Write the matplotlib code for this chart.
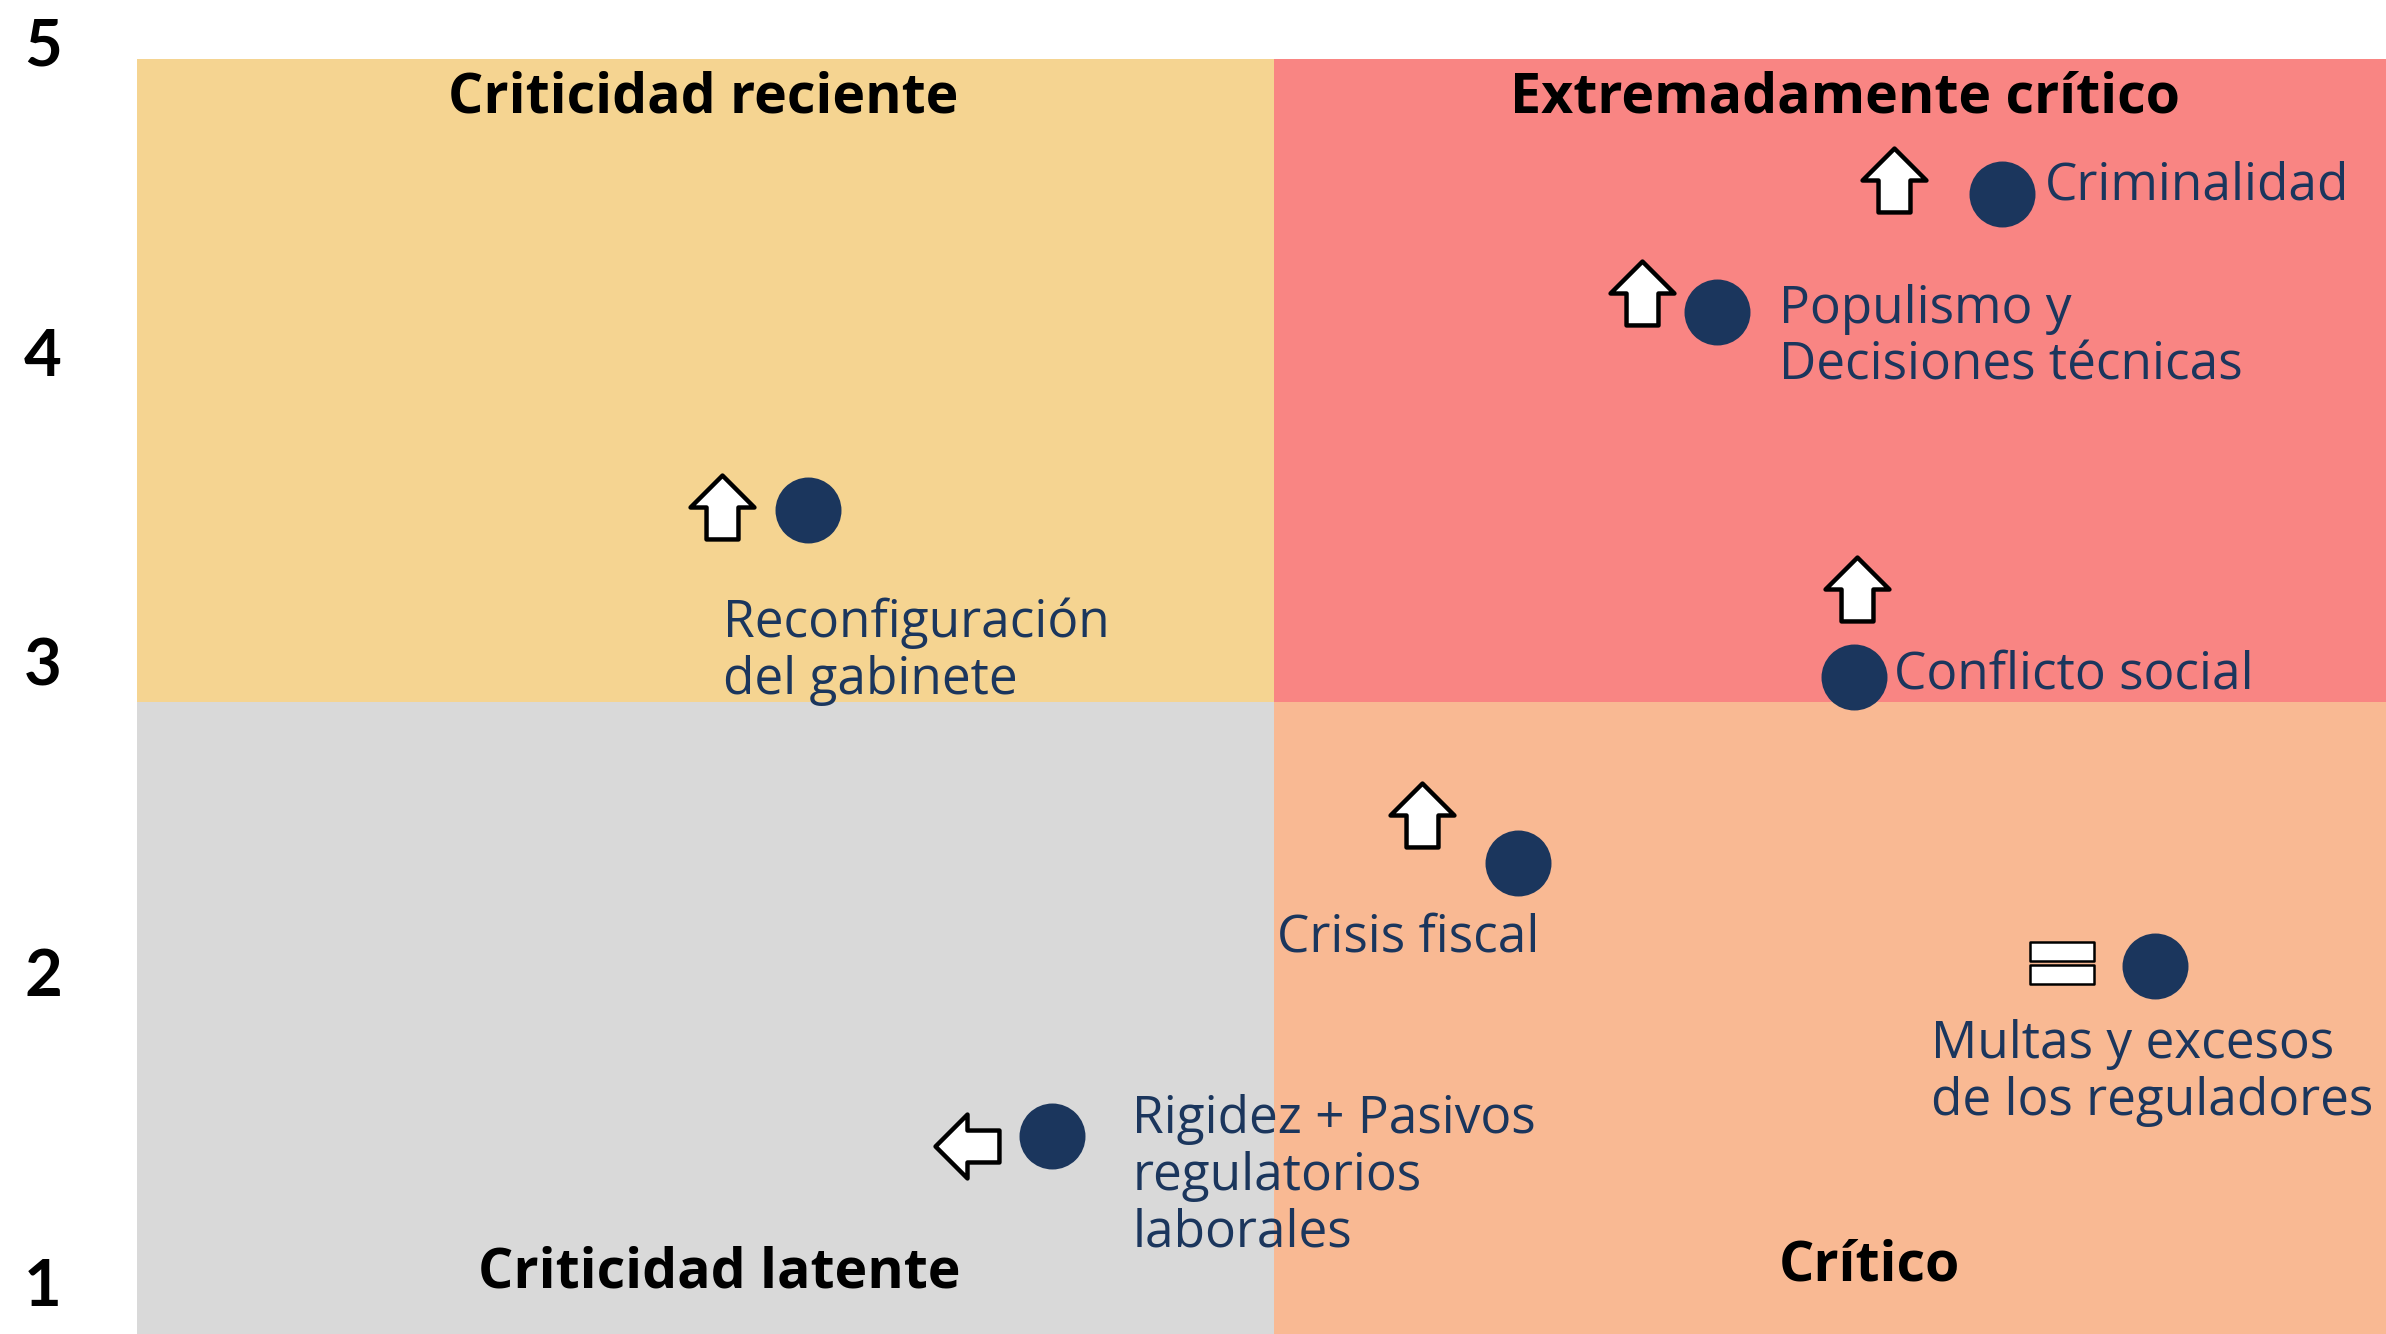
"""
Mapa de riesgos: cuadrantes de criticidad con tendencia
"""
import numpy as np
import matplotlib
matplotlib.use("Agg")
import matplotlib.pyplot as plt
from matplotlib.patches import Rectangle
from matplotlib.path import Path
from matplotlib.transforms import offset_copy

# datos
riesgos = ["Criminalidad", "Populismo y\nDecisiones técnicas", "Reconfiguración\ndel gabinete",
           "Conflicto social", "Crisis fiscal", "Multas y excesos\nde los reguladores",
           "Rigidez + Pasivos\nregulatorios\nlaborales"]
impacto = [4.28, 3.78, 2.18, 4.02, 3.43, 4.55, 2.61]
probabilidad = [4.51, 4.13, 3.49, 2.95, 2.35, 2.02, 1.47]
tendencia = ["up", "up", "up", "up", "up", "equal", "left"]
y_ticks = [1, 2, 3, 4, 5]

cuadrantes = ["Criticidad reciente", "Extremadamente crítico", "Criticidad latente", "Crítico"]

# limites de los cuadrantes
x_min, x_mid, x_max = 1.0, 3.0, 4.956
y_min, y_mid, y_top = 0.832, 2.871, 4.945

# posicion de etiquetas (baseline de la primera linea) y flechas, offset en puntos
label_off = [(31, -4.3), (44.6, -7.2), (-61.2, -90.7), (28.8, -7.9),
             (-174.2, -63.4), (-161.3, -65.5), (57.6, 4.3)]
arrow_off = [(-77.8, 10.1), (-54, 13.7), (-62, 2.2), (2.2, 63.4),
             (-69.8, 34.6), (-67, 2.2), (-61.2, -7.2)]
line_pitch = 41.8  # puntos entre lineas

navy = "#1B365D"
colores = ["#F5D491", "#F98583", "#D9D9D9", "#F9B993"]

# marcadores de tendencia
up_verts = [(0, 0.5), (0.5, 0), (0.25, 0), (0.25, -0.5), (-0.25, -0.5), (-0.25, 0), (-0.5, 0), (0, 0.5)]
up_codes = [Path.MOVETO] + [Path.LINETO] * 6 + [Path.CLOSEPOLY]
up_path = Path(up_verts, up_codes)
left_path = Path([(-y, x) for x, y in up_verts], up_codes)
eq_verts = [(-0.5, 0.333), (0.5, 0.333), (0.5, 0.03), (-0.5, 0.03), (-0.5, 0.333),
            (-0.5, -0.03), (0.5, -0.03), (0.5, -0.333), (-0.5, -0.333), (-0.5, -0.03)]
eq_codes = ([Path.MOVETO] + [Path.LINETO] * 3 + [Path.CLOSEPOLY]) * 2
eq_path = Path(eq_verts, eq_codes)
markers = {"up": up_path, "left": left_path, "equal": eq_path}

W, H = 2386, 1334
fig = plt.figure(figsize=(W / 100, H / 100), dpi=100)
ax = fig.add_axes([137 / W, 0, (W - 137) / W, 1])
ax.set_xlim(x_min, x_max)
ax.set_ylim(y_min, 5 + 42 / 310)

# cuadrantes
ax.add_patch(Rectangle((x_min, y_mid), x_mid - x_min, y_top - y_mid, color=colores[0], lw=0))
ax.add_patch(Rectangle((x_mid, y_mid), x_max - x_mid, y_top - y_mid, color=colores[1], lw=0))
ax.add_patch(Rectangle((x_min, y_min), x_mid - x_min, y_mid - y_min, color=colores[2], lw=0))
ax.add_patch(Rectangle((x_mid, y_min), x_max - x_mid, y_mid - y_min, color=colores[3], lw=0))

title_font = dict(family="Open Sans", fontweight="bold", fontsize=40, color="black",
                  ha="center", va="baseline")
ax.text(1.996, 4.771, cuadrantes[0], **title_font)
ax.text(4.004, 4.771, cuadrantes[1], **title_font)
ax.text(2.025, 0.981, cuadrantes[2], **title_font)
ax.text(4.047, 1.006, cuadrantes[3], **title_font)

# puntos
ax.plot(impacto, probabilidad, "o", ms=47.5, color=navy, mew=0, ls="none")

for i, nombre in enumerate(riesgos):
    x, y = impacto[i], probabilidad[i]
    n_lines = nombre.count("\n")
    dx, dy = label_off[i]
    # va='baseline' alinea la ultima linea, se baja el texto segun el numero de lineas
    ax.annotate(nombre, (x, y), xytext=(dx, dy - n_lines * line_pitch), textcoords="offset points",
                ha="left", va="baseline", fontsize=37, family="Open Sans",
                color=navy, linespacing=1.15)
    tr = offset_copy(ax.transData, fig=fig, x=arrow_off[i][0], y=arrow_off[i][1], units="points")
    lw = 1.8 if tendencia[i] == "equal" else 3.2
    ax.plot([x], [y], marker=markers[tendencia[i]], ms=46, mfc="white", mec="black",
            mew=lw, ls="none", transform=tr)

ax.set_xticks([])
ax.set_yticks(y_ticks)
ax.set_yticklabels([str(t) for t in y_ticks], fontsize=47, fontweight="bold", family="Lato")
ax.tick_params(axis="y", length=0, pad=54)
for s in ax.spines.values():
    s.set_visible(False)

fig.savefig("out.png", dpi=100)
